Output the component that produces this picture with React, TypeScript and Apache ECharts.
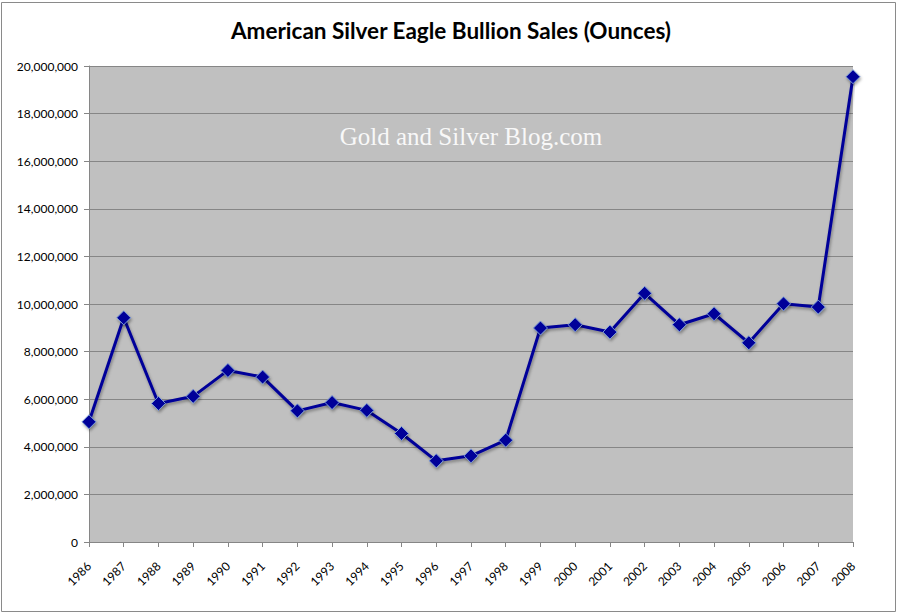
import React, { useEffect, useRef } from "react";
import * as echarts from "echarts";

const years = ["1986","1987","1988","1989","1990","1991","1992","1993","1994","1995","1996","1997","1998","1999","2000","2001","2002","2003","2004","2005","2006","2007","2008"];
const sales = [5050000, 9420000, 5820000, 6120000, 7210000, 6930000, 5510000, 5860000, 5530000, 4560000, 3410000, 3620000, 4280000, 8990000, 9130000, 8820000, 10450000, 9130000, 9590000, 8370000, 10010000, 9870000, 19550000];
const titleText = "American Silver Eagle Bullion Sales (Ounces)";
const watermark = "Gold and Silver Blog.com";

export default function App() {
  const ref = useRef<HTMLDivElement>(null);
  useEffect(() => {
    document.body.style.margin = "0";
    const chart = echarts.init(ref.current!, null, { renderer: "svg" });
    chart.setOption({
      animation: false,
      backgroundColor: "#ffffff",
      title: {
        text: titleText,
        left: 446,
        textAlign: "center",
        top: 14,
        textStyle: { fontFamily: "Lato", fontWeight: "bold", fontSize: 22.5, color: "#000000" },
      },
      grid: { left: 89, right: 49, top: 66, bottom: 72, show: true, backgroundColor: "#c0c0c0", borderWidth: 0 },
      xAxis: {
        type: "category",
        data: years,
        boundaryGap: false,
        axisLine: { lineStyle: { color: "#868686", width: 1 } },
        axisTick: { show: true, length: 5, alignWithLabel: true, lineStyle: { color: "#868686" } },
        axisLabel: { rotate: 45, fontFamily: "Lato", fontSize: 12, color: "#000000", margin: 22, interval: 0 },
      },
      yAxis: {
        type: "value",
        min: 0,
        max: 20000000,
        interval: 2000000,
        axisLine: { show: true, lineStyle: { color: "#868686", width: 1 } },
        axisTick: { show: true, length: 5, lineStyle: { color: "#868686" } },
        splitLine: { lineStyle: { color: "#868686", width: 1 } },
        axisLabel: {
          fontFamily: "Lato",
          fontSize: 12,
          color: "#000000",
          margin: 11,
          formatter: (v: number) => v.toLocaleString("en-US"),
        },
      },
      graphic: [
        {
          type: "rect",
          shape: { x: 1.5, y: 2.5, width: 894, height: 609 },
          style: { fill: "none", stroke: "#8a8a8a", lineWidth: 1 },
          silent: true,
          z: 100,
        },
        {
          type: "text",
          x: 471,
          y: 136,
          style: {
            text: watermark,
            fill: "#f8f8f8",
            font: "25px 'Liberation Serif', 'DejaVu Serif', serif",
            textAlign: "center",
            textVerticalAlign: "middle",
          },
          silent: true,
          z: 50,
        },
      ],
      series: [
        {
          type: "line",
          data: sales,
          symbol: "diamond",
          symbolSize: 14,
          showAllSymbol: true,
          lineStyle: { color: "#000099", width: 3, shadowColor: "rgba(0,0,0,0.35)", shadowBlur: 3, shadowOffsetX: 1, shadowOffsetY: 2 },
          itemStyle: { color: "#000099", borderColor: "#7a9ad6", borderWidth: 1, shadowColor: "rgba(0,0,0,0.35)", shadowBlur: 3, shadowOffsetX: 1, shadowOffsetY: 2 },
          z: 10,
        },
      ],
    });
    return () => chart.dispose();
  }, []);
  return <div ref={ref} style={{ position: "fixed", left: 0, top: 0, width: 902, height: 614 }} />;
}
